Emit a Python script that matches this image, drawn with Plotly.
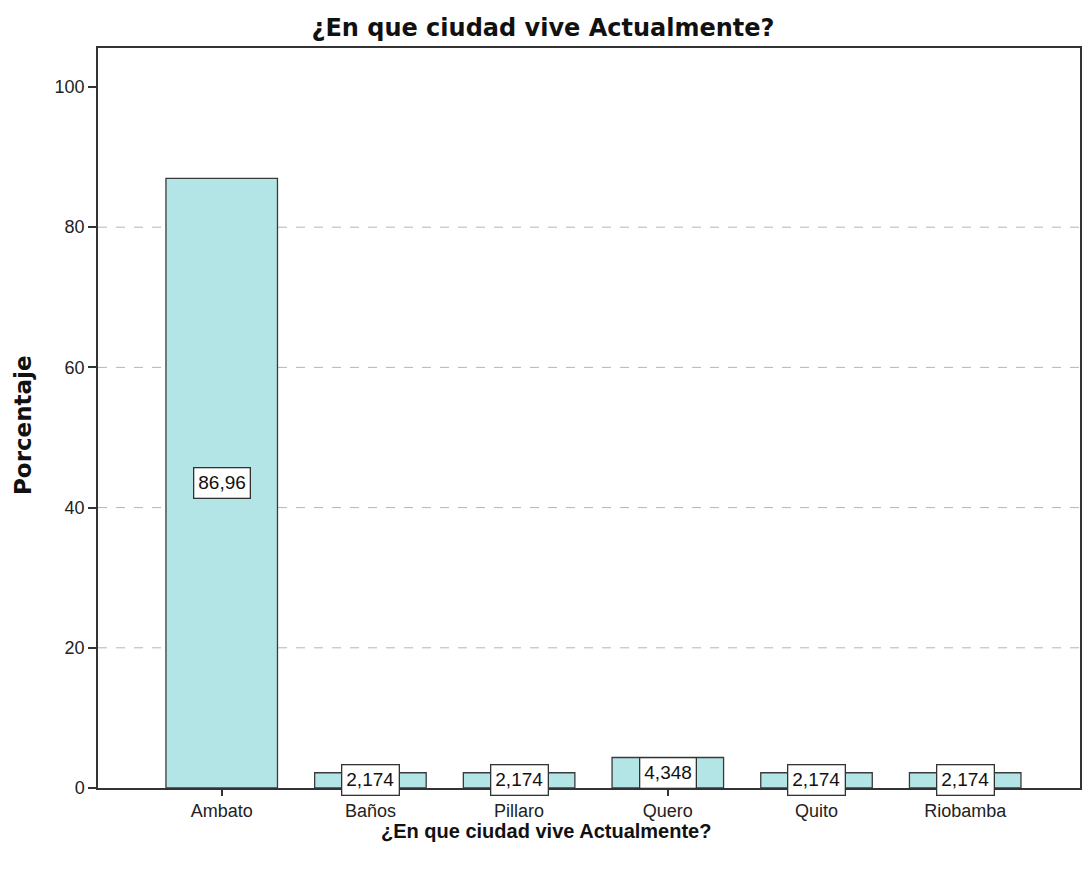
import plotly.graph_objects as go

# Data
ciudades = ['Ambato', 'Baños', 'Pillaro', 'Quero', 'Quito', 'Riobamba']
porcentajes = [86.96, 2.174, 2.174, 4.348, 2.174, 2.174]
y_ticks = [0, 20, 40, 60, 80, 100]
grid_lines = [20, 40, 60, 80]

titulo = '¿En que ciudad vive Actualmente?'
etiquetas = [f"{v}".replace('.', ',') for v in porcentajes]

# page body has an 8px margin, so the figure is sized to fit the window
W, H = 1076, 854

fig = go.Figure(go.Bar(
    x=ciudades,
    y=porcentajes,
    width=0.75,
    marker=dict(color='#b4e5e6', line=dict(color='#3a3a3a', width=1.3)),
    hoverinfo='x+y',
))

# boxed value labels in the middle of each bar
for c, v, t in zip(ciudades, porcentajes, etiquetas):
    fig.add_annotation(
        x=c, y=v / 2, text=t, showarrow=False,
        font=dict(family='Liberation Sans, Arial', size=19, color='#111'),
        bgcolor='white', bordercolor='#333', borderwidth=1.3, borderpad=4,
    )

# dashed reference lines
for g in grid_lines:
    fig.add_shape(type='line', xref='paper', x0=0, x1=1, y0=g, y1=g,
                  line=dict(color='#b5b5b5', width=1, dash='dash'), layer='below')

# axis titles
fig.add_annotation(text='<b>' + titulo + '</b>', xref='paper', yref='paper',
                   x=(539 - 90) / 984, y=0, yshift=-43, xanchor='center', yanchor='middle',
                   showarrow=False, font=dict(family='Liberation Sans, Arial', size=20, color='#111'))
fig.add_annotation(text='<b>Porcentaje</b>', xref='paper', yref='paper',
                   x=0, xshift=-75, y=0.4905, xanchor='center', yanchor='middle',
                   textangle=-90, showarrow=False,
                   font=dict(family='DejaVu Sans', size=23, color='#111'))

fig.update_layout(
    width=W, height=H,
    margin=dict(l=90, r=2, t=40, b=74),
    paper_bgcolor='white', plot_bgcolor='white',
    font=dict(family='Liberation Sans, Arial', size=18, color='#222'),
    title=dict(text='<b>' + titulo + '</b>', x=535 / W, xref='container', xanchor='center',
               y=1 - 20 / H, yref='container', yanchor='middle',
               font=dict(family='DejaVu Sans', size=24, color='#111')),
    showlegend=False,
)

fig.update_xaxes(
    range=[-0.832, 5.772],
    showline=True, linecolor='#333', linewidth=1.5, mirror=True,
    ticks='outside', ticklen=6, tickcolor='#333', tickwidth=1.5,
    showgrid=False,
    tickfont=dict(size=18, color='#222'),
)

fig.update_yaxes(
    range=[0, 105.56],
    tickvals=y_ticks,
    showline=True, linecolor='#333', linewidth=1.5, mirror=True,
    ticks='outside', ticklen=8, tickcolor='#333', tickwidth=1.5,
    showgrid=False, zeroline=False,
    tickfont=dict(size=18, color='#222'),
)

fig.write_html("out.html")
